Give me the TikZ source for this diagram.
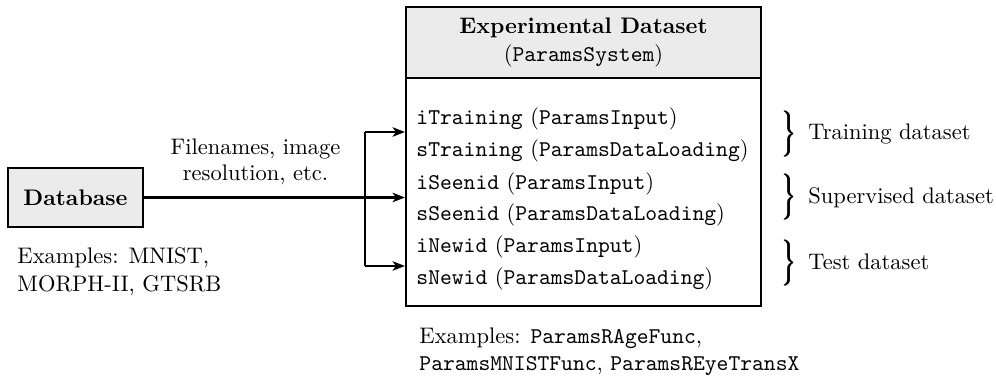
\documentclass[tikz,border=0pt]{standalone}
\usetikzlibrary{arrows.meta}
\definecolor{boxgray}{RGB}{235,235,235}
\newcommand\myheavybrace{\resizebox*{6.2pt}{20.5pt}{$\big\}$}}
\newcommand\myboldbrace{\rlap{\myheavybrace}\rlap{\hspace{0.3pt}\myheavybrace}\hspace{0.6pt}\myheavybrace}
\begin{document}
\begin{tikzpicture}[x=0.4444pt,y=-0.4444pt,
  boxshape/.style={draw, line width=0.9pt, inner sep=0pt},
  conn/.style={line width=0.9pt, -{Stealth[length=5.5pt,width=4.2pt,inset=1.5pt]}},
  plain/.style={line width=0.9pt},
  txt/.style={inner sep=0pt, anchor=base west},
  ctxt/.style={inner sep=0pt, anchor=base},
  bracenode/.style={inner sep=0pt, anchor=west}
]
\useasboundingbox (0,0) rectangle (996,378);
% database
\node[boxshape, fill=boxgray, minimum width=60pt, minimum height=26.2pt] (db) at (75.5,197.5) {\textbf{Database}};
\node[txt] (e1) at (17,264) {Examples: MNIST,};
\node[txt] (e2) at (17,292) {MORPH-II, GTSRB};
% main box
\node[boxshape, minimum width=157.8pt, minimum height=132.9pt] (main) at (583.5,156.5) {};
\node[boxshape, fill=boxgray, minimum width=157.8pt, minimum height=31.6pt] (head) at (583.5,42.5) {};
\node[ctxt] (h1) at (583.5,34) {\textbf{Experimental Dataset}};
\node[ctxt] (h2) at (583.5,62) {(\texttt{ParamsSystem})};
\node[txt] (r1) at (416,125) {\texttt{iTraining} (\texttt{ParamsInput})};
\node[txt] (r2) at (416,157) {\texttt{sTraining} (\texttt{ParamsDataLoading})};
\node[txt] (r3) at (416,189.5) {\texttt{iSeenid} (\texttt{ParamsInput})};
\node[txt] (r4) at (416,221) {\texttt{sSeenid} (\texttt{ParamsDataLoading})};
\node[txt] (r5) at (416,253) {\texttt{iNewid} (\texttt{ParamsInput})};
\node[txt] (r6) at (416,285) {\texttt{sNewid} (\texttt{ParamsDataLoading})};
% connectors
\node[ctxt] (l1) at (255.5,155) {Filenames, image};
\node[ctxt] (l2) at (255.5,181) {resolution, etc.};
\coordinate (bt) at (365,132);
\coordinate (bb) at (365,266);
\draw[conn] (db.east) -- (main.west |- db.east);
\draw[plain] (bt) -- (bb);
\draw[conn] (bt) -- (main.west |- bt);
\draw[conn] (bb) -- (main.west |- bb);
% braces
\node[bracenode] (b1) at (781,134.5) {\myboldbrace};
\node[bracenode] (b2) at (781,197.5) {\myboldbrace};
\node[bracenode] (b3) at (781,263.5) {\myboldbrace};
\node[txt] (t1) at (808,140) {Training dataset};
\node[txt] (t2) at (808,204) {Supervised dataset};
\node[txt] (t3) at (808,270) {Test dataset};
% bottom examples
\node[txt] (x1) at (419,344) {Examples: \texttt{ParamsRAgeFunc},};
\node[txt] (x2) at (419,371) {\texttt{ParamsMNISTFunc}, \texttt{ParamsREyeTransX}};
\end{tikzpicture}
\end{document}
